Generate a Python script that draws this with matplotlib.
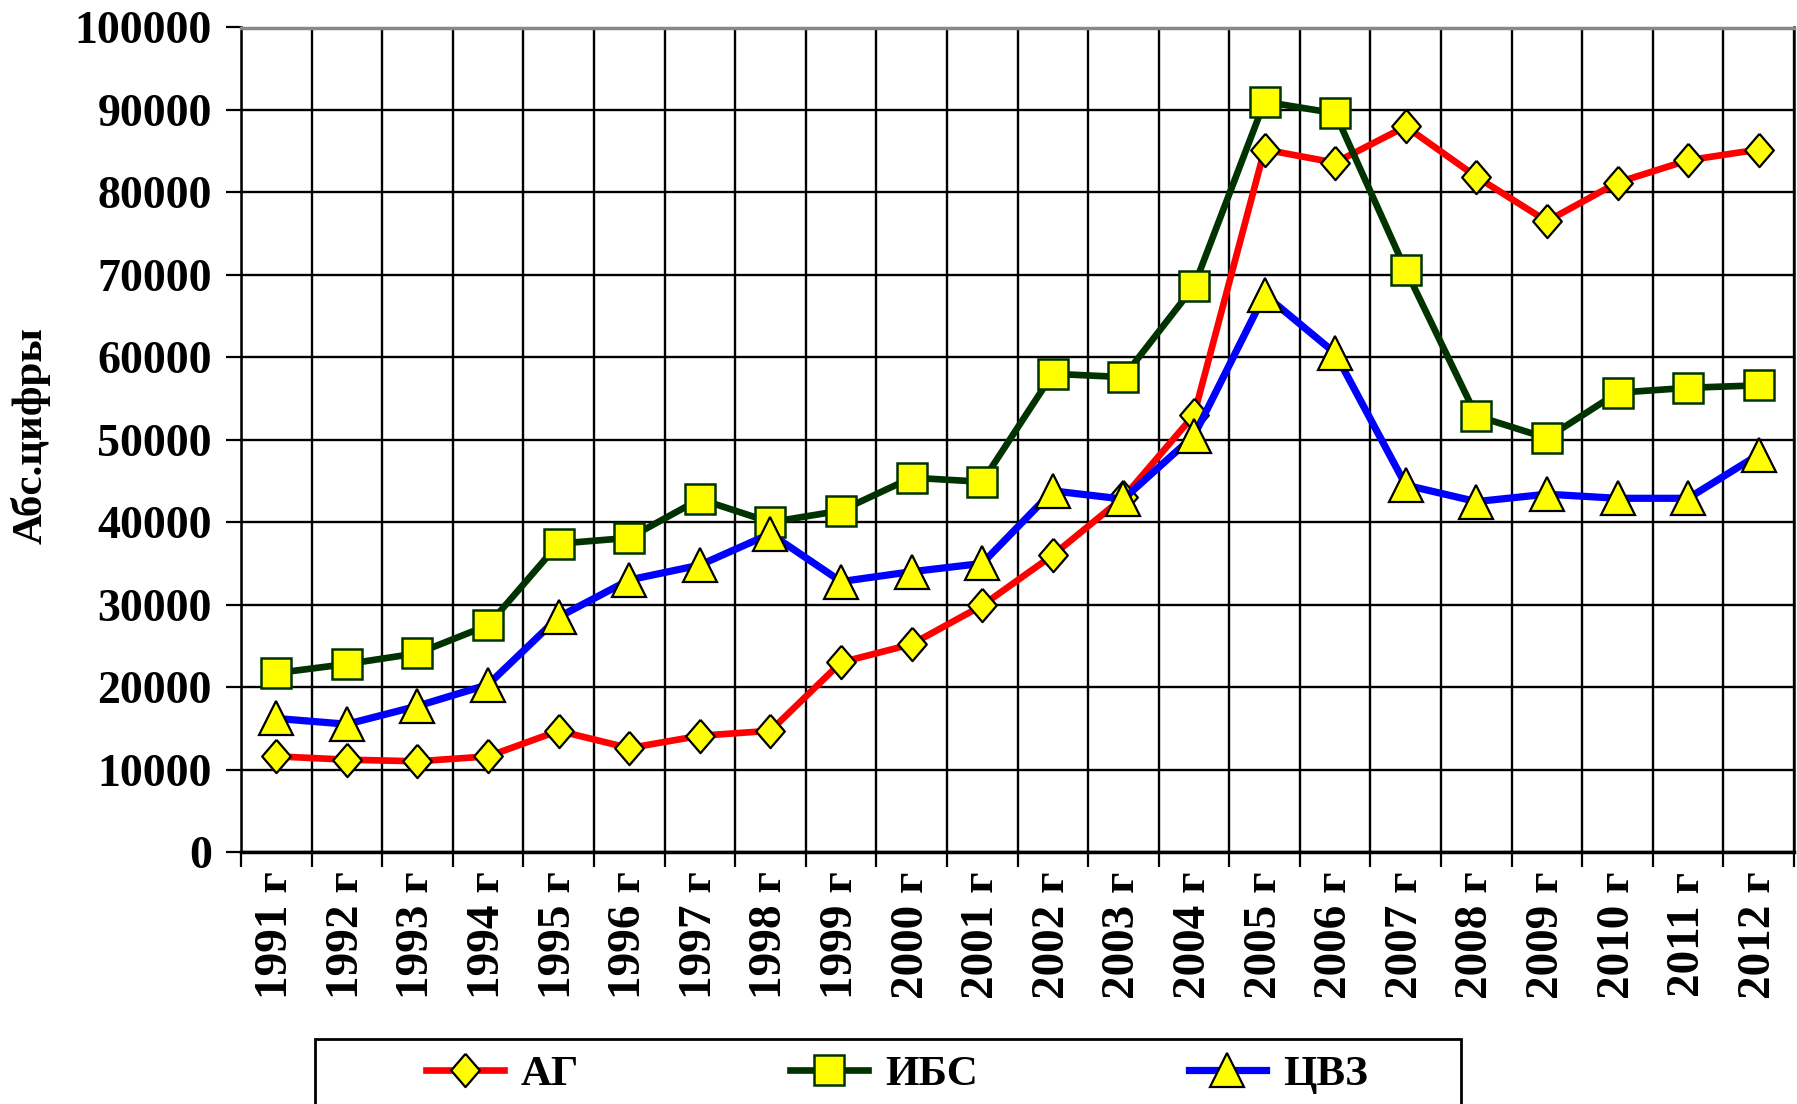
import matplotlib
matplotlib.use("Agg")
import matplotlib.pyplot as plt
from matplotlib.ticker import FixedLocator, MultipleLocator
from matplotlib.patches import Rectangle

years = list(range(1991, 2013))
year_labels = [f"{y} г" for y in years]

ag = [11600, 11200, 11000, 11600, 14700, 12600, 14100, 14700, 23000, 25200, 29900,
      36000, 43000, 53000, 85200, 83600, 88000, 81900, 76500, 81200, 83900, 85200]
ibs = [21700, 22800, 24100, 27500, 37400, 38100, 42800, 40000, 41400, 45400, 44900,
       58000, 57600, 68600, 91000, 89600, 70600, 52900, 50200, 55700, 56300, 56600]
cvz = [16200, 15500, 17700, 20300, 28500, 33000, 34800, 38600, 32800, 34000, 35000,
       43800, 42800, 50500, 67600, 60500, 44500, 42500, 43400, 42900, 42900, 48200]

series_names = ["АГ", "ИБС", "ЦВЗ"]

plt.rcParams['font.family'] = ['Liberation Serif', 'DejaVu Serif']
plt.rcParams['font.weight'] = 'bold'

W, H = 1797, 1104
fig = plt.figure(figsize=(W / 100, H / 100), dpi=100)
ax = fig.add_axes([241 / W, 1 - 852 / H, (1794 - 241) / W, (852 - 27.5) / H])

x = list(range(len(years)))
diamond = [(0, 1), (0.86, 0), (0, -1), (-0.86, 0), (0, 1)]

l1, = ax.plot(x, ag, color='#FF0000', lw=4.8, marker=diamond, ms=24,
              mfc='#FFFF00', mec='black', mew=1.6, zorder=3, label=series_names[0])
l2, = ax.plot(x, ibs, color='#003300', lw=4.8, marker='s', ms=22,
              mfc='#FFFF00', mec='#003300', mew=1.8, zorder=4, label=series_names[1])
l3, = ax.plot(x, cvz, color='#0000FF', lw=5.2, marker='^', ms=24,
              mfc='#FFFF00', mec='black', mew=1.6, zorder=5, label=series_names[2])

ax.set_xlim(-0.5, len(years) - 0.5)
ax.set_ylim(0, 100000)

ax.xaxis.set_major_locator(FixedLocator(x))
ax.xaxis.set_minor_locator(FixedLocator([i - 0.5 for i in range(len(years) + 1)]))
ax.set_xticklabels(year_labels, rotation=90, fontsize=34, fontweight='bold')
ax.set_yticks(range(0, 100001, 10000))
ax.set_yticklabels([str(v) for v in range(0, 100001, 10000)], fontsize=33, fontweight='bold')

ax.tick_params(axis='x', which='major', length=0, pad=14)
ax.tick_params(axis='x', which='minor', length=11, width=1.6, color='black', direction='out')
ax.tick_params(axis='y', which='major', length=11, width=1.6, color='black', pad=10)

ax.grid(True, axis='y', which='major', color='black', lw=1.7, zorder=1)
ax.grid(True, axis='x', which='minor', color='black', lw=1.7, zorder=1)
ax.set_axisbelow(True)

for s in ['left', 'right', 'bottom']:
    ax.spines[s].set_color('black')
    ax.spines[s].set_linewidth(1.8)
ax.spines['bottom'].set_linewidth(2.5)
ax.spines['top'].set_color('#888888')
ax.spines['top'].set_linewidth(2.5)

fig.text(31 / W, 1 - 436 / H, "Абс.цифры", rotation=90, ha='center', va='center',
         fontsize=31, fontweight='bold')

# legend frame (extends past the bottom edge like in the reference)
fig.patches.append(Rectangle((315 / W, -0.05), (1461 - 315) / W, 0.05 + (1 - 1039 / H),
                             transform=fig.transFigure, fill=False, edgecolor='black',
                             lw=2.0, zorder=1))

leg = fig.legend(handles=[l1, l2, l3], loc='center left',
                 bbox_to_anchor=(426 / W, 1 - 1074 / H),
                 ncol=3, frameon=False, handlelength=1.8, handletextpad=0.4,
                 columnspacing=4.9, borderpad=0, borderaxespad=0, numpoints=1,
                 prop={'weight': 'bold', 'size': 31})

fig.savefig("out.png", dpi=100)
